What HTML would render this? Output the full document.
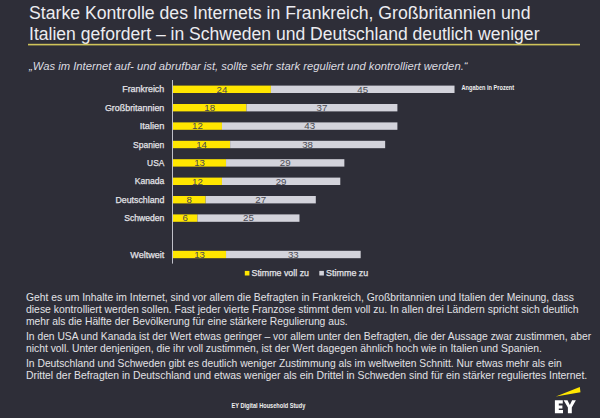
<!DOCTYPE html>
<html><head><meta charset="utf-8"><style>
html,body{margin:0;padding:0;background:#2e2e38;width:600px;height:418px;overflow:hidden}
svg{display:block;font-family:"Liberation Sans", sans-serif}
</style></head><body>
<svg width="600" height="418" viewBox="0 0 600 418">
<rect width="600" height="418" fill="#2e2e38"/>
<text x="29" y="18.9" font-size="17.5" fill="#ececf0" text-anchor="start" font-weight="400" font-style="normal" textLength="501.5" lengthAdjust="spacingAndGlyphs">Starke Kontrolle des Internets in Frankreich, Großbritannien und</text>
<text x="29" y="39.6" font-size="17.5" fill="#ececf0" text-anchor="start" font-weight="400" font-style="normal" textLength="510.5" lengthAdjust="spacingAndGlyphs">Italien gefordert – in Schweden und Deutschland deutlich weniger</text>
<rect x="28" y="43.8" width="552" height="1.6" fill="#cfc45a"/>
<text x="29" y="70" font-size="11.2" fill="#dcdce0" text-anchor="start" font-weight="400" font-style="italic" textLength="438.5" lengthAdjust="spacingAndGlyphs">„Was im Internet auf- und abrufbar ist, sollte sehr stark reguliert und kontrolliert werden.“</text>
<rect x="172" y="80" width="1" height="183.6" fill="#c0c0c8"/>
<rect x="173.0" y="85.6" width="97.92" height="7.4" fill="#ffe600"/>
<rect x="270.92" y="85.6" width="183.60" height="7.4" fill="#d3d3db"/>
<text x="164.3" y="92.3" font-size="9" fill="#e4e4e8" text-anchor="end" font-weight="400" font-style="normal" textLength="42.1" lengthAdjust="spacingAndGlyphs" stroke="#e4e4e8" stroke-width="0.25">Frankreich</text>
<text x="221.96" y="92.6" font-size="9.7" fill="#4a4a52" text-anchor="middle" font-weight="400" font-style="normal">24</text>
<text x="362.72" y="92.6" font-size="9.7" fill="#4a4a52" text-anchor="middle" font-weight="400" font-style="normal">45</text>
<rect x="173.0" y="104.0" width="73.44" height="7.4" fill="#ffe600"/>
<rect x="246.44" y="104.0" width="150.96" height="7.4" fill="#d3d3db"/>
<text x="164.3" y="110.7" font-size="9" fill="#e4e4e8" text-anchor="end" font-weight="400" font-style="normal" textLength="59.35" lengthAdjust="spacingAndGlyphs" stroke="#e4e4e8" stroke-width="0.25">Großbritannien</text>
<text x="209.72" y="111.0" font-size="9.7" fill="#4a4a52" text-anchor="middle" font-weight="400" font-style="normal">18</text>
<text x="321.92" y="111.0" font-size="9.7" fill="#4a4a52" text-anchor="middle" font-weight="400" font-style="normal">37</text>
<rect x="173.0" y="122.4" width="48.96" height="7.4" fill="#ffe600"/>
<rect x="221.96" y="122.4" width="175.44" height="7.4" fill="#d3d3db"/>
<text x="164.3" y="129.1" font-size="9" fill="#e4e4e8" text-anchor="end" font-weight="400" font-style="normal" textLength="24.6" lengthAdjust="spacingAndGlyphs" stroke="#e4e4e8" stroke-width="0.25">Italien</text>
<text x="197.48" y="129.4" font-size="9.7" fill="#4a4a52" text-anchor="middle" font-weight="400" font-style="normal">12</text>
<text x="309.68" y="129.4" font-size="9.7" fill="#4a4a52" text-anchor="middle" font-weight="400" font-style="normal">43</text>
<rect x="173.0" y="140.8" width="57.12" height="7.4" fill="#ffe600"/>
<rect x="230.12" y="140.8" width="155.04" height="7.4" fill="#d3d3db"/>
<text x="164.3" y="147.5" font-size="9" fill="#e4e4e8" text-anchor="end" font-weight="400" font-style="normal" textLength="31.2" lengthAdjust="spacingAndGlyphs" stroke="#e4e4e8" stroke-width="0.25">Spanien</text>
<text x="201.56" y="147.8" font-size="9.7" fill="#4a4a52" text-anchor="middle" font-weight="400" font-style="normal">14</text>
<text x="307.64" y="147.8" font-size="9.7" fill="#4a4a52" text-anchor="middle" font-weight="400" font-style="normal">38</text>
<rect x="173.0" y="159.2" width="53.04" height="7.4" fill="#ffe600"/>
<rect x="226.04" y="159.2" width="118.32" height="7.4" fill="#d3d3db"/>
<text x="164.3" y="165.9" font-size="9" fill="#e4e4e8" text-anchor="end" font-weight="400" font-style="normal" textLength="17.2" lengthAdjust="spacingAndGlyphs" stroke="#e4e4e8" stroke-width="0.25">USA</text>
<text x="199.52" y="166.2" font-size="9.7" fill="#4a4a52" text-anchor="middle" font-weight="400" font-style="normal">13</text>
<text x="285.2" y="166.2" font-size="9.7" fill="#4a4a52" text-anchor="middle" font-weight="400" font-style="normal">29</text>
<rect x="173.0" y="177.6" width="48.96" height="7.4" fill="#ffe600"/>
<rect x="221.96" y="177.6" width="118.32" height="7.4" fill="#d3d3db"/>
<text x="164.3" y="184.3" font-size="9" fill="#e4e4e8" text-anchor="end" font-weight="400" font-style="normal" textLength="29.6" lengthAdjust="spacingAndGlyphs" stroke="#e4e4e8" stroke-width="0.25">Kanada</text>
<text x="197.48" y="184.6" font-size="9.7" fill="#4a4a52" text-anchor="middle" font-weight="400" font-style="normal">12</text>
<text x="281.12" y="184.6" font-size="9.7" fill="#4a4a52" text-anchor="middle" font-weight="400" font-style="normal">29</text>
<rect x="173.0" y="196.0" width="32.64" height="7.4" fill="#ffe600"/>
<rect x="205.64" y="196.0" width="110.16" height="7.4" fill="#d3d3db"/>
<text x="164.3" y="202.7" font-size="9" fill="#e4e4e8" text-anchor="end" font-weight="400" font-style="normal" textLength="48.8" lengthAdjust="spacingAndGlyphs" stroke="#e4e4e8" stroke-width="0.25">Deutschland</text>
<text x="189.32" y="203.0" font-size="9.7" fill="#4a4a52" text-anchor="middle" font-weight="400" font-style="normal">8</text>
<text x="260.72" y="203.0" font-size="9.7" fill="#4a4a52" text-anchor="middle" font-weight="400" font-style="normal">27</text>
<rect x="173.0" y="214.4" width="24.48" height="7.4" fill="#ffe600"/>
<rect x="197.48" y="214.4" width="102.00" height="7.4" fill="#d3d3db"/>
<text x="164.3" y="221.1" font-size="9" fill="#e4e4e8" text-anchor="end" font-weight="400" font-style="normal" textLength="40.1" lengthAdjust="spacingAndGlyphs" stroke="#e4e4e8" stroke-width="0.25">Schweden</text>
<text x="185.24" y="221.4" font-size="9.7" fill="#4a4a52" text-anchor="middle" font-weight="400" font-style="normal">6</text>
<text x="248.48" y="221.4" font-size="9.7" fill="#4a4a52" text-anchor="middle" font-weight="400" font-style="normal">25</text>
<rect x="173.0" y="250.8" width="53.04" height="7.4" fill="#ffe600"/>
<rect x="226.04" y="250.8" width="134.64" height="7.4" fill="#d3d3db"/>
<text x="164.3" y="257.5" font-size="9" fill="#e4e4e8" text-anchor="end" font-weight="400" font-style="normal" textLength="34.0" lengthAdjust="spacingAndGlyphs" stroke="#e4e4e8" stroke-width="0.25">Weltweit</text>
<text x="199.52" y="257.8" font-size="9.7" fill="#4a4a52" text-anchor="middle" font-weight="400" font-style="normal">13</text>
<text x="293.36" y="257.8" font-size="9.7" fill="#4a4a52" text-anchor="middle" font-weight="400" font-style="normal">33</text>
<text x="461.5" y="89.9" font-size="7" fill="#f0f0f0" text-anchor="start" font-weight="700" font-style="normal" textLength="52.6" lengthAdjust="spacingAndGlyphs">Angaben in Prozent</text>
<rect x="244.8" y="270.9" width="4.6" height="4.6" fill="#ffe600"/>
<text x="251.5" y="275.8" font-size="9" fill="#e4e4e8" text-anchor="start" font-weight="400" font-style="normal" textLength="57.5" lengthAdjust="spacingAndGlyphs" stroke="#e4e4e8" stroke-width="0.25">Stimme voll zu</text>
<rect x="319.3" y="270.9" width="4.6" height="4.6" fill="#d3d3db"/>
<text x="326.1" y="275.8" font-size="9" fill="#e4e4e8" text-anchor="start" font-weight="400" font-style="normal" textLength="42.2" lengthAdjust="spacingAndGlyphs" stroke="#e4e4e8" stroke-width="0.25">Stimme zu</text>
<text x="26" y="300.8" font-size="10.3" fill="#e2e2e6" text-anchor="start" font-weight="400" font-style="normal" textLength="547.9" lengthAdjust="spacingAndGlyphs">Geht es um Inhalte im Internet, sind vor allem die Befragten in Frankreich, Großbritannien und Italien der Meinung, dass</text>
<text x="26" y="312.9" font-size="10.3" fill="#e2e2e6" text-anchor="start" font-weight="400" font-style="normal" textLength="552.5" lengthAdjust="spacingAndGlyphs">diese kontrolliert werden sollen. Fast jeder vierte Franzose stimmt dem voll zu. In allen drei Ländern spricht sich deutlich</text>
<text x="26" y="325.0" font-size="10.3" fill="#e2e2e6" text-anchor="start" font-weight="400" font-style="normal">mehr als die Hälfte der Bevölkerung für eine stärkere Regulierung aus.</text>
<text x="26" y="340.0" font-size="10.3" fill="#e2e2e6" text-anchor="start" font-weight="400" font-style="normal" textLength="565.1" lengthAdjust="spacingAndGlyphs">In den USA und Kanada ist der Wert etwas geringer – vor allem unter den Befragten, die der Aussage zwar zustimmen, aber</text>
<text x="26" y="352.1" font-size="10.3" fill="#e2e2e6" text-anchor="start" font-weight="400" font-style="normal" textLength="515.8" lengthAdjust="spacingAndGlyphs">nicht voll. Unter denjenigen, die ihr voll zustimmen, ist der Wert dagegen ähnlich hoch wie in Italien und Spanien.</text>
<text x="26" y="366.7" font-size="10.3" fill="#e2e2e6" text-anchor="start" font-weight="400" font-style="normal" textLength="535.8" lengthAdjust="spacingAndGlyphs">In Deutschland und Schweden gibt es deutlich weniger Zustimmung als im weltweiten Schnitt. Nur etwas mehr als ein</text>
<text x="26" y="378.7" font-size="10.3" fill="#e2e2e6" text-anchor="start" font-weight="400" font-style="normal" textLength="561.2" lengthAdjust="spacingAndGlyphs">Drittel der Befragten in Deutschland und etwas weniger als ein Drittel in Schweden sind für ein stärker reguliertes Internet.</text>
<text x="231.5" y="408" font-size="7" fill="#f0f0f0" text-anchor="start" font-weight="700" font-style="normal" textLength="73.8" lengthAdjust="spacingAndGlyphs">EY Digital Household Study</text>
<polygon points="555.9,396.5 579.8,387.1 580.5,392.3" fill="#ffe600"/>
<path d="M554.9,400.3 H562.8 V403.5 H558.8 V405.5 H562.4 V408.6 H558.8 V410.1 H563 V413.2 H554.9 Z" fill="#fff"/>
<path d="M563.6,400.3 H567.5 L569.85,404.9 L572.1,400.3 H575.9 L571.8,407.6 V413.2 H567.9 V407.6 Z" fill="#fff"/>
</svg>
</body></html>
